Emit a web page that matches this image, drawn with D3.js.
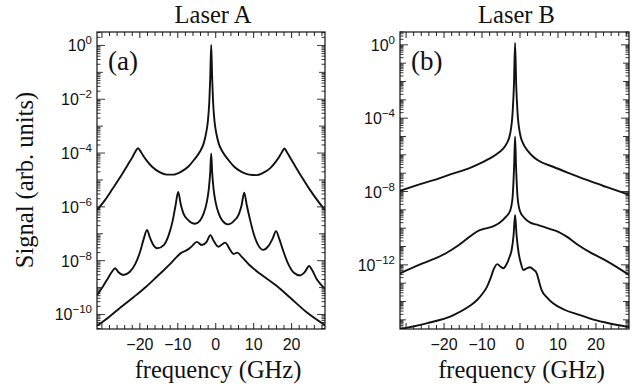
<!DOCTYPE html>
<html><head><meta charset="utf-8">
<script src="https://cdn.jsdelivr.net/npm/d3@7"></script>
<style>
body{margin:0;background:#fff}
.serif{font-family:"Liberation Serif","DejaVu Serif","Times New Roman",serif;}
.sans{font-family:"Liberation Sans","DejaVu Sans",Arial,sans-serif;}
</style></head>
<body>
<svg id="c" width="638" height="386"></svg>
<script>
// ---- data: [frequency (GHz), log10 signal] ----
const laserA_top = [[-31.3,-6.12],[-29.2,-5.75],[-27.2,-5.33],[-25.2,-4.9],[-23.2,-4.44],[-22.0,-4.16],[-21.2,-3.95],[-20.5,-3.82],[-19.9,-3.92],[-19.2,-4.08],[-18.2,-4.28],[-16.7,-4.52],[-14.7,-4.72],[-12.9,-4.8],[-11.2,-4.8],[-9.2,-4.7],[-7.2,-4.5],[-5.7,-4.25],[-4.2,-3.95],[-3.2,-3.65],[-2.6,-3.3],[-2.1,-2.85],[-1.7,-2.1],[-1.45,-1.2],[-1.2,0.02],[-0.95,-1.2],[-0.7,-2.1],[-0.3,-2.85],[0.2,-3.3],[0.8,-3.65],[1.8,-3.95],[3.3,-4.25],[4.8,-4.5],[6.8,-4.7],[8.8,-4.8],[10.8,-4.82],[12.3,-4.75],[14.3,-4.57],[15.8,-4.33],[16.9,-4.1],[17.5,-3.95],[18.1,-3.83],[18.7,-3.95],[19.4,-4.12],[20.8,-4.45],[22.8,-4.92],[24.8,-5.36],[26.8,-5.76],[28.8,-6.12]];
const laserA_mid = [[-31.3,-9.28],[-29.7,-8.95],[-28.7,-8.72],[-27.4,-8.42],[-26.5,-8.28],[-25.7,-8.42],[-24.4,-8.53],[-22.7,-8.42],[-21.2,-8.12],[-19.9,-7.65],[-19.0,-7.2],[-18.1,-6.86],[-17.4,-7.12],[-16.6,-7.38],[-15.4,-7.54],[-13.7,-7.42],[-12.4,-7.05],[-11.4,-6.55],[-10.6,-5.95],[-9.9,-5.45],[-9.2,-5.92],[-8.5,-6.25],[-7.2,-6.5],[-5.5,-6.63],[-4.2,-6.52],[-3.2,-6.25],[-2.4,-5.85],[-1.8,-5.3],[-1.45,-4.7],[-1.2,-4.01],[-0.95,-4.7],[-0.6,-5.3],[0.0,-5.85],[0.8,-6.25],[1.8,-6.52],[3.3,-6.65],[4.8,-6.52],[6.1,-6.27],[6.8,-5.95],[7.5,-5.47],[8.2,-5.95],[9.0,-6.45],[10.0,-7.0],[11.3,-7.45],[12.5,-7.6],[13.8,-7.47],[15.0,-7.18],[15.9,-6.9],[16.7,-7.17],[17.7,-7.6],[19.1,-8.12],[20.6,-8.45],[22.2,-8.55],[23.5,-8.42],[24.6,-8.2],[25.4,-8.35],[26.6,-8.68],[27.8,-8.9],[28.8,-9.05]];
const laserA_low = [[-31.3,-10.42],[-28.2,-10.1],[-25.2,-9.75],[-21.6,-9.35],[-18.2,-8.95],[-15.2,-8.55],[-12.2,-8.15],[-10.2,-7.85],[-9.2,-7.72],[-8.2,-7.65],[-7.2,-7.57],[-6.2,-7.45],[-5.0,-7.3],[-3.65,-7.42],[-2.4,-7.3],[-1.4,-7.05],[-0.6,-7.25],[0.7,-7.48],[2.5,-7.33],[3.8,-7.6],[4.7,-7.75],[5.7,-7.7],[6.8,-7.85],[8.8,-8.15],[11.8,-8.5],[16.2,-8.95],[19.8,-9.4],[23.8,-9.9],[28.8,-10.4]];
const laserB_top = [[-31.6,-7.96],[-26.3,-7.6],[-21.3,-7.28],[-17.5,-7.01],[-13.3,-6.72],[-10.5,-6.46],[-7.8,-6.18],[-6.1,-5.95],[-4.7,-5.72],[-3.5,-5.38],[-2.6,-4.85],[-1.95,-3.7],[-1.6,-2.2],[-1.3,0.1],[-1.0,-2.2],[-0.65,-3.7],[0.0,-4.85],[0.9,-5.42],[2.1,-5.8],[3.2,-6.05],[4.7,-6.3],[8.7,-6.65],[12.7,-6.98],[17.6,-7.37],[22.7,-7.75],[28.8,-8.19]];
const laserB_mid = [[-31.6,-12.46],[-26.6,-12.0],[-22.3,-11.65],[-19.5,-11.37],[-16.3,-10.95],[-14.2,-10.62],[-12.3,-10.32],[-11.3,-10.18],[-9.8,-10.06],[-8.7,-10.0],[-6.8,-9.87],[-5.2,-9.68],[-3.8,-9.4],[-2.6,-9.05],[-1.95,-8.3],[-1.55,-6.6],[-1.3,-5.01],[-1.05,-6.6],[-0.65,-8.3],[0.0,-9.08],[1.2,-9.45],[2.7,-9.7],[4.8,-9.83],[7.2,-10.0],[10.1,-10.2],[12.2,-10.45],[15.3,-10.92],[18.7,-11.35],[22.4,-11.74],[28.8,-12.56]];
const laserB_low = [[-31.6,-15.5],[-24.6,-15.19],[-17.5,-14.74],[-13.3,-14.25],[-11.3,-13.92],[-9.8,-13.55],[-8.7,-13.2],[-7.7,-12.7],[-7.0,-12.28],[-6.0,-11.96],[-5.1,-12.1],[-4.4,-12.19],[-3.5,-11.95],[-2.8,-11.6],[-2.2,-11.19],[-1.7,-10.4],[-1.3,-9.28],[-0.9,-10.4],[-0.4,-11.3],[0.2,-11.9],[0.9,-12.28],[1.7,-12.2],[2.6,-12.13],[3.5,-12.25],[4.4,-12.46],[5.0,-12.9],[5.7,-13.38],[7.2,-13.8],[8.7,-14.1],[11.7,-14.45],[15.8,-14.74],[18.7,-14.95],[22.8,-15.16],[28.8,-15.4]];

const xTickLabels = [-20, -10, 0, 10, 20];
const yLabelExpA = [0, -2, -4, -6, -8, -10];
const yLabelExpB = [0, -4, -8, -12];
const titles = ["Laser A", "Laser B"];
const panelTags = ["(a)", "(b)"];

// ---- drawing ----
const svg = d3.select("#c");

const panels = [
  {x0:97, x1:325, xdom:[-31.3,28.8], ydom:[-10.54,0.5], labels:yLabelExpA, curves:[laserA_top,laserA_mid,laserA_low], title:titles[0], tag:panelTags[0]},
  {x0:400, x1:629, xdom:[-31.6,28.7], ydom:[-15.5,0.7], labels:yLabelExpB, curves:[laserB_top,laserB_mid,laserB_low], title:titles[1], tag:panelTags[1]}
];
const yTop = 32, yBot = 329;

panels.forEach((p, i) => {
  const x = d3.scaleLinear().domain(p.xdom).range([p.x0, p.x1]);
  const y = d3.scaleLog().domain([10**p.ydom[0], 10**p.ydom[1]]).range([yBot, yTop]);
  const g = svg.append("g");
  const cid = "clip" + i;
  svg.append("clipPath").attr("id", cid).append("rect")
    .attr("x", p.x0).attr("y", yTop).attr("width", p.x1 - p.x0).attr("height", yBot - yTop);

  // curves
  const line = d3.line().x(d => x(d[0])).y(d => y(10 ** d[1])).curve(d3.curveMonotoneX);
  p.curves.forEach(c => {
    g.append("path").attr("d", line(c)).attr("clip-path", `url(#${cid})`)
      .attr("fill", "none").attr("stroke", "#111").attr("stroke-width", 1.9)
      .attr("stroke-linejoin", "round");
  });

  // x ticks (inward, top and bottom)
  const xMinor = d3.range(-30, 29, 2).filter(v => v >= p.xdom[0] && v <= p.xdom[1]);
  xMinor.forEach(v => {
    const len = (v % 10 === 0) ? 6 : 4;
    g.append("line").attr("x1", x(v)).attr("x2", x(v)).attr("y1", yBot).attr("y2", yBot - len).attr("stroke", "#222").attr("stroke-width", 1);
    g.append("line").attr("x1", x(v)).attr("x2", x(v)).attr("y1", yTop).attr("y2", yTop + len).attr("stroke", "#222").attr("stroke-width", 1);
  });
  xTickLabels.forEach(v => {
    g.append("text").attr("class", "sans").attr("x", x(v)).attr("y", 350).attr("text-anchor", "middle")
      .attr("font-size", 16).attr("fill", "#111")
      .text(v < 0 ? "\u2212" + Math.abs(v) : String(v));
  });

  // y ticks (log, inward, left and right)
  const eLo = Math.floor(p.ydom[0]), eHi = Math.ceil(p.ydom[1]);
  for (let e = eLo; e <= eHi; e++) {
    for (let m = 1; m <= 9; m++) {
      const v = m * 10 ** e;
      const lv = Math.log10(v);
      if (lv < p.ydom[0] || lv > p.ydom[1]) continue;
      const len = m === 1 ? (p.labels.includes(e) ? 8 : 6) : 3.5;
      const yy = y(v);
      g.append("line").attr("x1", p.x0).attr("x2", p.x0 + len).attr("y1", yy).attr("y2", yy).attr("stroke", "#222").attr("stroke-width", 0.9);
      g.append("line").attr("x1", p.x1).attr("x2", p.x1 - len).attr("y1", yy).attr("y2", yy).attr("stroke", "#222").attr("stroke-width", 0.9);
    }
  }
  p.labels.forEach(e => {
    const t = g.append("text").attr("class", "sans").attr("x", p.x0 - 5).attr("y", y(10 ** e) + 6).attr("text-anchor", "end")
      .attr("font-size", 16).attr("fill", "#111");
    t.append("tspan").text("10");
    t.append("tspan").attr("dy", -7).attr("font-size", 11.5).text(e < 0 ? "\u2212" + Math.abs(e) : String(e));
  });

  // frame
  g.append("rect").attr("x", p.x0).attr("y", yTop).attr("width", p.x1 - p.x0).attr("height", yBot - yTop)
    .attr("fill", "none").attr("stroke", "#111").attr("stroke-width", 1.2);

  // title, tag, x label
  const cx = (p.x0 + p.x1) / 2;
  svg.append("text").attr("class", "serif").attr("x", cx + 2).attr("y", 23).attr("text-anchor", "middle")
    .attr("font-size", 24.5).attr("fill", "#111").text(p.title);
  svg.append("text").attr("class", "serif").attr("x", p.x0 + 11).attr("y", 70)
    .attr("font-size", 27).attr("fill", "#111").text(p.tag);
  svg.append("text").attr("class", "serif").attr("x", cx + 7).attr("y", 378).attr("text-anchor", "middle")
    .attr("font-size", 24.5).attr("fill", "#111").text("frequency (GHz)");
});

svg.append("text").attr("class", "serif").attr("transform", "translate(33,180) rotate(-90)").attr("text-anchor", "middle")
  .attr("font-size", 24.5).attr("fill", "#111").text("Signal (arb. units)");
</script>
</body></html>
